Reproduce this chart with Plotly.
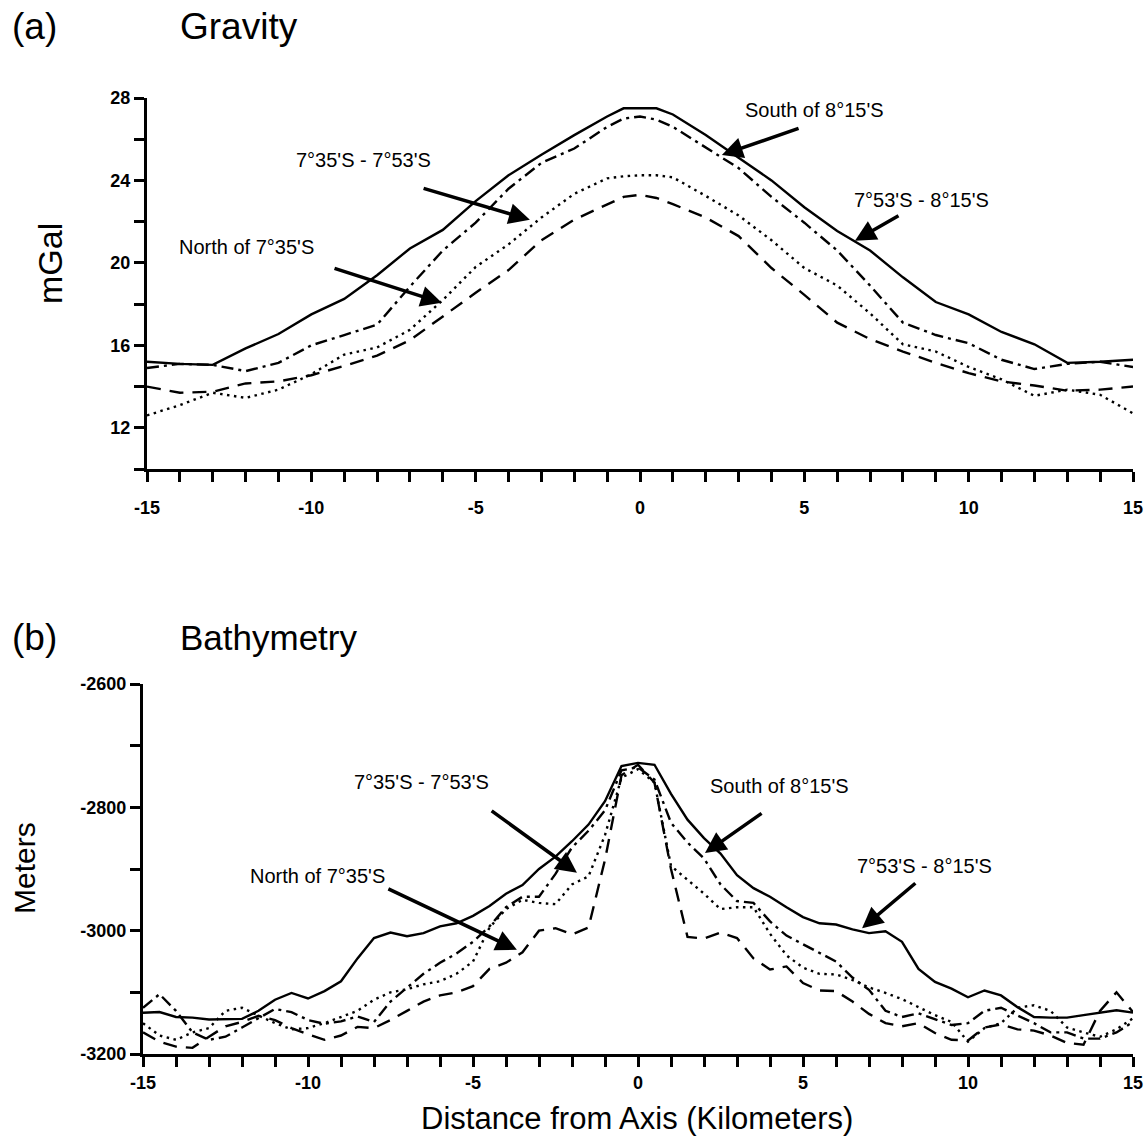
import plotly.graph_objects as go

W, H = 1146, 1142

# ---------------- Gravity (panel a) ----------------
grav_x = [-15, -14, -13, -12, -11, -10, -9, -8, -7, -6, -5, -4, -3, -2, -1, -0.5, 0, 0.5,
          1, 2, 3, 4, 5, 6, 7, 8, 9, 10, 11, 12, 13, 14, 15]
# 7°53'S - 8°15'S (solid)
grav_mid_south = [15.2, 15.1, 15.05, 15.85, 16.55, 17.5, 18.25, 19.4, 20.7, 21.6, 23.0, 24.25,
                  25.25, 26.2, 27.1, 27.5, 27.5, 27.5, 27.2, 26.2, 25.1, 24.0, 22.7, 21.55,
                  20.6, 19.3, 18.1, 17.5, 16.65, 16.05, 15.15, 15.2, 15.3]
# South of 8°15'S (dash-dot)
grav_south = [14.9, 15.1, 15.05, 14.75, 15.15, 16.0, 16.5, 17.0, 18.85, 20.6, 21.95, 23.6,
              24.85, 25.55, 26.6, 27.0, 27.1, 26.95, 26.6, 25.6, 24.6, 23.2, 21.95, 20.6,
              18.9, 17.1, 16.5, 16.1, 15.3, 14.85, 15.1, 15.2, 14.95]
# 7°35'S - 7°53'S (dotted)
grav_mid_north = [12.6, 13.1, 13.7, 13.45, 13.85, 14.6, 15.55, 15.9, 16.75, 18.2, 19.8, 20.9,
                  22.2, 23.35, 24.1, 24.2, 24.25, 24.25, 24.15, 23.25, 22.3, 21.1, 19.75, 18.9,
                  17.55, 16.05, 15.7, 14.95, 14.35, 13.55, 13.85, 13.6, 12.7]
# North of 7°35'S (dashed)
grav_north = [14.0, 13.7, 13.75, 14.15, 14.25, 14.55, 15.0, 15.5, 16.25, 17.4, 18.55, 19.65,
              21.1, 22.1, 22.85, 23.2, 23.3, 23.15, 22.85, 22.2, 21.3, 19.75, 18.45, 17.1,
              16.3, 15.7, 15.15, 14.65, 14.25, 14.05, 13.8, 13.85, 14.0]

# ---------------- Bathymetry (panel b) ----------------
bathy_x = [-15, -14.5, -14, -13.5, -13, -12.5, -12, -11.5, -11, -10.5, -10, -9.5, -9, -8.5,
           -8, -7.5, -7, -6.5, -6, -5.5, -5, -4.5, -4, -3.5, -3, -2.5, -2, -1.5, -1, -0.5,
           0, 0.5, 1, 1.5, 2, 2.5, 3, 3.5, 4, 4.5, 5, 5.5, 6, 6.5, 7, 7.5, 8, 8.5, 9, 9.5,
           10, 10.5, 11, 11.5, 12, 12.5, 13, 13.5, 14, 14.5, 15]
bathy_mid_south = [-3133, -3132, -3140, -3141, -3144, -3144, -3143, -3130, -3112, -3101, -3110,
                   -3098, -3082, -3045, -3012, -3003, -3009, -3004, -2993, -2988, -2976, -2960,
                   -2940, -2926, -2900, -2880, -2855, -2828, -2790, -2733, -2728, -2731, -2778,
                   -2820, -2850, -2875, -2910, -2931, -2945, -2962, -2978, -2988, -2990, -2998,
                   -3004, -3001, -3018, -3062, -3083, -3094, -3108, -3097, -3105, -3124, -3140,
                   -3141, -3141, -3137, -3133, -3129, -3133]
bathy_south = [-3125, -3103, -3130, -3165, -3177, -3172, -3157, -3142, -3127, -3132, -3145,
               -3151, -3147, -3139, -3148, -3115, -3092, -3070, -3052, -3037, -3018, -2993,
               -2962, -2945, -2945, -2908, -2865, -2838, -2805, -2740, -2735, -2755, -2825,
               -2857, -2883, -2925, -2952, -2955, -2985, -3008, -3022, -3036, -3050, -3076,
               -3096, -3130, -3140, -3134, -3143, -3153, -3150, -3130, -3125, -3138, -3150,
               -3165, -3165, -3175, -3175, -3165, -3148]
bathy_mid_north = [-3150, -3170, -3177, -3165, -3158, -3130, -3125, -3138, -3150, -3160, -3158,
                   -3150, -3140, -3130, -3112, -3100, -3095, -3087, -3082, -3070, -3050, -2995,
                   -2965, -2950, -2955, -2957, -2925, -2912, -2845, -2752, -2738, -2760, -2895,
                   -2918, -2940, -2965, -2962, -2962, -3005, -3040, -3060, -3070, -3071, -3080,
                   -3092, -3101, -3111, -3124, -3137, -3148, -3180, -3158, -3150, -3125, -3121,
                   -3130, -3157, -3165, -3172, -3160, -3142]
bathy_north = [-3165, -3180, -3188, -3190, -3172, -3155, -3148, -3138, -3145, -3158, -3168,
               -3177, -3170, -3156, -3158, -3145, -3130, -3115, -3105, -3100, -3090, -3062,
               -3052, -3035, -3000, -2996, -3006, -2995, -2885, -2748, -2731, -2760, -2900,
               -3010, -3013, -3003, -3012, -3045, -3063, -3058, -3085, -3097, -3098, -3115,
               -3135, -3150, -3155, -3150, -3166, -3177, -3178, -3157, -3152, -3160, -3162,
               -3170, -3182, -3185, -3130, -3100, -3132]

series_labels = ["South of 8°15'S", "7°53'S - 8°15'S", "7°35'S - 7°53'S", "North of 7°35'S"]

# tick labels (plain hyphen minus, as in the original)
x_tickvals = [-15, -10, -5, 0, 5, 10, 15]
x_ticktext = ["-15", "-10", "-5", "0", "5", "10", "15"]
grav_tickvals = [12, 16, 20, 24, 28]
grav_ticktext = ["12", "16", "20", "24", "28"]
bathy_tickvals = [-3200, -3000, -2800, -2600]
bathy_ticktext = ["-3200", "-3000", "-2800", "-2600"]

FONT = "Liberation Sans, Arial, Helvetica, sans-serif"
DASHES = {
    "solid": "solid",
    "dashdot": "12px,5px,3px,5px",
    "dot": "2.5px,4.5px",
    "dash": "14px,9px",
}

fig = go.Figure()
top = [(grav_mid_south, "solid"), (grav_south, "dashdot"),
       (grav_mid_north, "dot"), (grav_north, "dash")]
bot = [(bathy_mid_south, "solid"), (bathy_south, "dashdot"),
       (bathy_mid_north, "dot"), (bathy_north, "dash")]
for yv, d in top:
    fig.add_trace(go.Scatter(x=grav_x, y=yv, mode="lines", xaxis="x", yaxis="y",
                             line=dict(color="black", width=2.4, dash=DASHES[d]),
                             showlegend=False, hoverinfo="skip"))
for yv, d in bot:
    fig.add_trace(go.Scatter(x=bathy_x, y=yv, mode="lines", xaxis="x2", yaxis="y2",
                             line=dict(color="black", width=2.4, dash=DASHES[d]),
                             showlegend=False, hoverinfo="skip"))

tickfont = dict(family=FONT, size=18, color="black", weight="bold")
common = dict(showline=True, linewidth=3, linecolor="black", showgrid=False, zeroline=False,
              ticks="outside", ticklen=10, tickwidth=2.5, tickcolor="black",
              tickfont=tickfont, fixedrange=True, automargin=False, tickmode="array")

def minor(dt, t0):
    return dict(dtick=dt, tick0=t0, ticks="outside", ticklen=10, tickwidth=2.5,
                tickcolor="black")

fig.update_layout(
    width=W, height=H, autosize=False,
    margin=dict(l=0, r=0, t=0, b=0, pad=0),
    paper_bgcolor="white", plot_bgcolor="white",
    xaxis=dict(domain=[147 / W, 1133 / W], anchor="y", range=[-15, 15],
               tickvals=x_tickvals, ticktext=x_ticktext, ticklabelstandoff=10,
               minor=minor(1, -15), **common),
    yaxis=dict(domain=[(H - 469) / H, (H - 98) / H], anchor="x", range=[10, 28],
               tickvals=grav_tickvals, ticktext=grav_ticktext, ticklabelstandoff=0,
               minor=minor(2, 10), **common),
    xaxis2=dict(domain=[143 / W, 1133 / W], anchor="y2", range=[-15, 15],
                tickvals=x_tickvals, ticktext=x_ticktext, ticklabelstandoff=0,
                minor=minor(1, -15), **common),
    yaxis2=dict(domain=[(H - 1054) / H, (H - 684) / H], anchor="x2", range=[-3200, -2600],
                tickvals=bathy_tickvals, ticktext=bathy_ticktext, ticklabelstandoff=0,
                minor=minor(100, -3200), **common),
)

ann = []
def ptext(txt, px, py, size, angle=0, xanchor="left"):
    ann.append(dict(text=txt, x=px / W, y=(H - py) / H, xref="paper", yref="paper",
                    xanchor=xanchor, yanchor="middle", showarrow=False, textangle=angle,
                    font=dict(family=FONT, size=size, color="black")))

ptext("(a)", 10, 27, 37)
ptext("Gravity", 178, 27, 37)
ptext("(b)", 10, 637, 37)
ptext("Bathymetry", 178, 637, 35)
ptext("mGal", 50, 264, 34, -90, "center")
ptext("Meters", 24, 868, 30, -90, "center")
ptext("Distance from Axis (Kilometers)", 637, 1118, 31, 0, "center")

lab_font = dict(family=FONT, size=20, color="black")
# labels (text position in data units)
top_labels = [(5.32, 27.42), (8.55, 23.05), (-8.40, 24.99), (-11.96, 20.78)]
bot_labels = [(4.30, -2765), (8.67, -2895), (-6.55, -2759), (-9.70, -2911)]
# arrows: (tail x, tail y, tip x, tip y)
top_arrows = [(4.87, 26.55, 2.49, 25.24), (7.91, 22.33, 6.54, 21.07),
              (-6.63, 23.64, -3.35, 22.09), (-9.34, 19.76, -6.03, 18.06)]
bot_arrows = [(3.79, -2808, 2.03, -2874), (8.45, -2921, 6.79, -2996),
              (-4.48, -2804, -1.85, -2906), (-7.61, -2931, -3.67, -3031)]

for (xr, yr), labs, arrows in [(("x", "y"), top_labels, top_arrows),
                                (("x2", "y2"), bot_labels, bot_arrows)]:
    for txt, (lx, ly), (tx, ty, hx, hy) in zip(series_labels, labs, arrows):
        ann.append(dict(text=txt, x=lx, y=ly, xref=xr, yref=yr, showarrow=False,
                        xanchor="center", yanchor="middle", font=lab_font))
        ann.append(dict(text="", x=hx, y=hy, xref=xr, yref=yr, ax=tx, ay=ty,
                        axref=xr, ayref=yr, showarrow=True, arrowhead=2, arrowsize=1.2,
                        arrowwidth=3.5, arrowcolor="black", standoff=0, startstandoff=0))

fig.update_layout(annotations=ann)
fig.write_html("out.html")
